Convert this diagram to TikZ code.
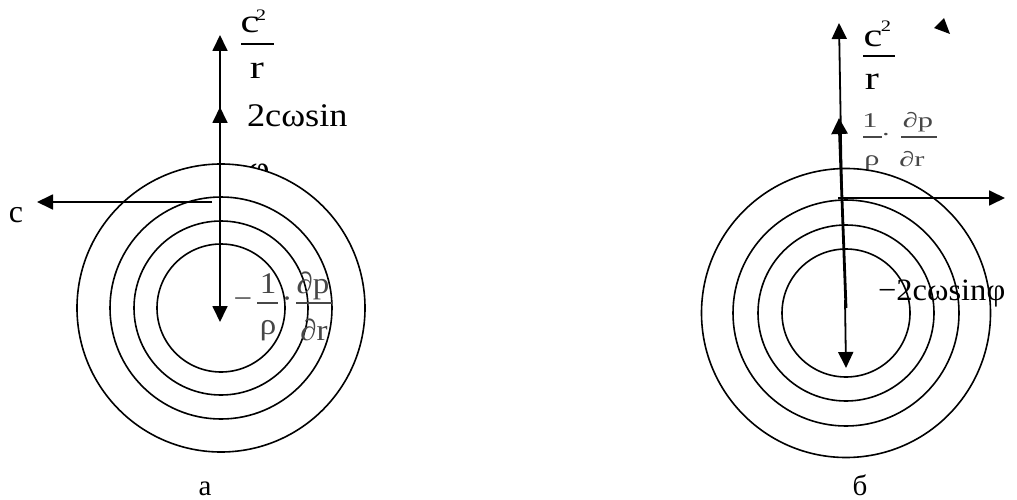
\documentclass[tikz,border=0pt]{standalone}
\usepackage{fontspec}
\setmainfont{Liberation Serif}
\newfontfamily\fsA[FakeStretch=1.28]{Liberation Serif}
\newfontfamily\fsB[FakeStretch=1.45]{Liberation Serif}
\newfontfamily\fsC[FakeStretch=1.1]{Liberation Serif}
\newfontfamily\fsD[FakeStretch=1.05]{Liberation Serif}
\usetikzlibrary{arrows.meta}
\begin{document}
\begin{tikzpicture}[x=1pt,y=-1pt,
  txt/.style={inner sep=0pt,outer sep=0pt,anchor=base,font=\fontsize{29}{34}\selectfont},
  big/.style={txt,font=\fsC\fontsize{33}{39}\selectfont},
  frac/.style={txt,font=\fsA\fontsize{33}{39}\selectfont},
  sup/.style={txt,font=\fsA\fontsize{16}{19}\selectfont},
  gry/.style={txt,text=black!72,font=\fsC\fontsize{30}{36}\selectfont},
  sml/.style={txt,text=black!72,font=\fsB\fontsize{21}{25}\selectfont},
  eqr/.style={txt,font=\fsD\fontsize{31}{37}\selectfont},
  ring/.style={line width=1.6pt,fill=white},
  vec/.style={line width=1.8pt,-{Triangle[length=16pt,width=15pt]}},
  thickvec/.style={line width=2.8pt,-{Triangle[length=16pt,width=16pt]}},
  bar/.style={line width=1.2pt},
  gbar/.style={line width=1.2pt,draw=black!72}]
\useasboundingbox (0,0) rectangle (1017,500);
% ================= left diagram =================
\node[big] (lphi) at (259,179) {φ};
\coordinate (L) at (221,308);
\draw[ring] (L) circle[radius=144pt];
\draw[ring] (L) circle[radius=111pt];
\draw[ring] (L) circle[radius=87pt];
\draw[ring] (L) circle[radius=64pt];
\coordinate (Lo) at (220,204);
\coordinate (Ltop) at (220,35);
\coordinate (Lmid) at (220,107);
\coordinate (Ldown) at (220,322);
\coordinate (Lh0) at (212,202);
\coordinate (Lh1) at (37,202);
\draw[vec] (Lo) -- (Ltop);
\draw[vec] (Lo) -- (Lmid);
\draw[vec] (Lo) -- (Ldown);
\draw[vec] (Lh0) -- (Lh1);
% c^2 / r
\node[frac] (lc) at (250,33) {c};
\node[sup] (lc2) at (261,21) {2};
\draw[bar] (241,44) -- (274,44);
\node[frac] (lr) at (257,79) {r};
\node[big,anchor=base west] (l2cw) at (247,127) {2cωsin};
\node[txt,font=\fontsize{32}{37}\selectfont] (lcc) at (16,222) {c};
% -1/rho . dp/dr
\node[gry,anchor=center] (lminus) at (243,303) {−};
\node[gry] (l1) at (268,293) {1};
\draw[gbar] (257,303) -- (278,303);
\node[gry] (lrho) at (268,334) {ρ};
\node[gry,anchor=center] (ldot) at (287,303) {·};
\node[gry] (ldp) at (313,293) {∂p};
\draw[gbar] (296,303) -- (333,303);
\node[gry] (ldr) at (314,340) {∂r};
\node[txt] (la) at (205,495) {а};
% ================= right diagram =================
\node[sml] (r1) at (870,128) {1};
\draw[gbar] (863,137) -- (882,137);
\node[sml,anchor=center] (rdot) at (886,137) {·};
\node[sml] (rdp) at (918,128) {∂p};
\draw[gbar] (901,137) -- (937,137);
\node[sml] (rrho) at (872,165) {ρ};
\node[sml] (rdr) at (912,167) {∂r};
\coordinate (R) at (846,313);
\draw[ring] (R) circle[radius=144.5pt];
\draw[ring] (R) circle[radius=113pt];
\draw[ring] (R) circle[radius=88pt];
\draw[ring] (R) circle[radius=64pt];
\coordinate (Ro) at (842,198);
\coordinate (Rtop) at (839,23);
\coordinate (Rc) at (846,308);
\coordinate (Rmid) at (839,118);
\coordinate (Rd0) at (845,300);
\coordinate (Rdown) at (846,368);
\coordinate (Rh0) at (838,198);
\coordinate (Rh1) at (1005,198);
\draw[vec] (Ro) -- (Rtop);
\draw[thickvec] (Rc) -- (Rmid);
\draw[vec] (Rd0) -- (Rdown);
\draw[vec] (Rh0) -- (Rh1);
\fill (944,18) -- (934,28) -- (950,34) -- cycle;
\node[frac] (rc) at (873,47) {c};
\node[sup] (rc2) at (886,32) {2};
\draw[bar] (863,56) -- (895,56);
\node[frac] (rr) at (872,90) {r};
\node[eqr,anchor=base west] (r2cw) at (878,300) {−2cωsinφ};
\node[txt] (rb) at (860,495) {б};
\end{tikzpicture}
\end{document}
